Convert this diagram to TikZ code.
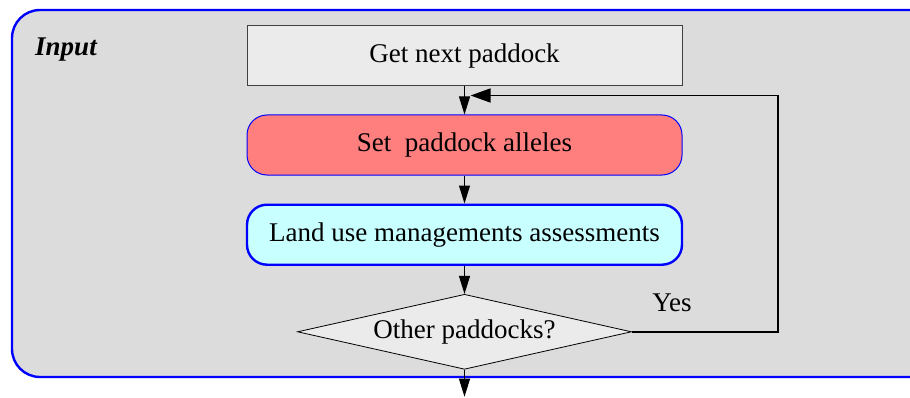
\documentclass[tikz,border=0pt]{standalone}
\usepackage{fontspec}
\setmainfont{Liberation Serif}
\usetikzlibrary{arrows.meta,positioning,shapes.geometric}
\definecolor{framegray}{HTML}{DCDCDC}
\definecolor{boxgray}{HTML}{EBEBEB}
\definecolor{allelered}{HTML}{FF7F7F}
\definecolor{landcyan}{HTML}{C8FFFF}
\definecolor{edgeblue}{HTML}{0000FF}
\definecolor{inkgray}{HTML}{404040}
\tikzset{
  inputframe/.style={draw=edgeblue,line width=1.2pt,fill=framegray,rounded corners=14pt},
  stepnode/.style={minimum width=217.5pt,minimum height=30pt,inner sep=0pt,font=\fontsize{13.5}{16}\selectfont},
  flowarrow/.style={-{Triangle[length=9pt,width=5.5pt]},draw=black,line width=0.5pt},
  loopline/.style={-{Triangle[length=10pt,width=7pt]},draw=black,line width=0.7pt},
  decnode/.style={diamond,draw=black,line width=0.4pt,fill=boxgray,inner sep=0pt,shape aspect=4.45,minimum width=167pt,minimum height=37.5pt,font=\fontsize{13.5}{16}\selectfont},
}
\begin{document}
\begin{tikzpicture}[x=0.5pt,y=0.5pt,node distance=14pt]
  \useasboundingbox (0,0) rectangle (910,397);
  \draw[inputframe] (12,20) rectangle (940,387);
  \node[font=\fontsize{13.5}{16}\selectfont\bfseries\itshape] (inputlabel) at (66,347) {Input};
  \node[stepnode,draw=inkgray,line width=0.5pt,fill=boxgray] (get) at (464.5,341) {Get next paddock};
  \node[stepnode,draw=edgeblue,line width=0.5pt,fill=allelered,rounded corners=10pt,below=of get] (set) {Set\ \ paddock alleles};
  \node[stepnode,draw=edgeblue,line width=1.2pt,fill=landcyan,rounded corners=10pt,below=14pt of set] (land) {Land use managements assessments};
  \node[decnode,below=14pt of land] (dec) {Other paddocks?};
  \node[font=\fontsize{13.5}{16}\selectfont] (yes) at (672,94) {Yes};
  \coordinate (loopin) at ([xshift=3pt,yshift=-4.5pt]get.south);
  \coordinate (out) at ([yshift=-13.5pt]dec.south);
  \draw[flowarrow] (get) -- (set);
  \draw[flowarrow] (set) -- (land);
  \draw[flowarrow] (land) -- (dec);
  \draw[flowarrow] (dec) -- (out);
  \draw[loopline] (dec.east) -- ++(146,0) |- (loopin);
\end{tikzpicture}
\end{document}
